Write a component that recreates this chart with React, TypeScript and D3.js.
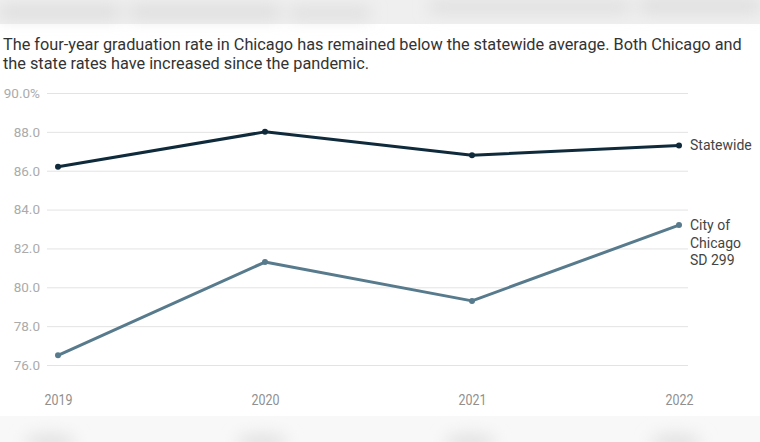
import React, { useEffect, useRef } from "react";
import * as d3 from "d3";

const years = ["2019", "2020", "2021", "2022"];
const statewide = [86.2, 88.0, 86.8, 87.3];
const chicago = [76.5, 81.3, 79.3, 83.2];
const yTicks = [76, 78, 80, 82, 84, 86, 88, 90];

const width = 760;
const height = 442;

export default function App() {
  const ref = useRef<SVGSVGElement>(null);

  useEffect(() => {
    const svg = d3.select(ref.current);
    svg.selectAll("*").remove();

    const defs = svg.append("defs");
    defs
      .append("filter")
      .attr("id", "blur")
      .attr("x", "-20%")
      .attr("y", "-100%")
      .attr("width", "140%")
      .attr("height", "300%")
      .append("feGaussianBlur")
      .attr("stdDeviation", 8);

    // blurred header/footer strips
    svg.append("rect").attr("x", 0).attr("y", 0).attr("width", width).attr("height", 24).attr("fill", "#efefef");
    const top = svg.append("g").attr("filter", "url(#blur)");
    [
      [0, 6, 120, 12], [130, 6, 150, 12], [290, 8, 80, 10], [430, 2, 200, 10], [640, 0, 120, 12],
    ].forEach(([x, y, w, h]) =>
      top.append("rect").attr("x", x).attr("y", y).attr("width", w).attr("height", h).attr("fill", "#dadada")
    );
    svg.append("rect").attr("x", 0).attr("y", 416).attr("width", width).attr("height", 26).attr("fill", "#f8f8f8");
    const bot = svg.append("g").attr("filter", "url(#blur)");
    [50, 262, 470, 676].forEach((x) =>
      bot.append("ellipse").attr("cx", x).attr("cy", 442).attr("rx", 26).attr("ry", 8).attr("fill", "#e0e0e0")
    );

    svg
      .append("text")
      .attr("x", 3)
      .attr("y", 50)
      .attr("font-family", "Roboto")
      .attr("font-size", 16.3)
      .attr("fill", "#333")
      .text("The four-year graduation rate in Chicago has remained below the statewide average. Both Chicago and");
    svg
      .append("text")
      .attr("x", 3)
      .attr("y", 69)
      .attr("font-family", "Roboto")
      .attr("font-size", 16.3)
      .attr("fill", "#333")
      .text("the state rates have increased since the pandemic.");

    const x = d3.scalePoint<string>().domain(years).range([58, 679]);
    const y = d3.scaleLinear().domain([76, 90]).range([365, 93]);

    const yAxis = svg
      .append("g")
      .attr("transform", "translate(688,0)")
      .call(
        d3
          .axisLeft(y)
          .tickValues(yTicks)
          .tickSize(641)
          .tickFormat((d) => (d === 90 ? "90.0%" : d3.format(".1f")(d as number)))
      );
    yAxis.select(".domain").remove();
    yAxis.selectAll(".tick line").attr("stroke", "#e3e3e3").attr("stroke-width", 1);
    yAxis
      .selectAll(".tick text")
      .attr("x", -648)
      .attr("text-anchor", "end")
      .attr("font-family", "Roboto")
      .attr("font-size", 13.5)
      .attr("fill", "#ababab");

    const xAxis = svg
      .append("g")
      .attr("transform", "translate(0,392)")
      .call(d3.axisBottom(x).tickSize(0));
    xAxis.select(".domain").remove();
    xAxis
      .selectAll(".tick text")
      .attr("font-family", "Roboto")
      .attr("font-size", 14)
      .attr("fill", "#8f8f8f")
      .attr("textLength", 28)
      .attr("lengthAdjust", "spacingAndGlyphs");

    const series = [
      { values: statewide, color: "#0f2a3b" },
      { values: chicago, color: "#577b8d" },
    ];
    const line = d3
      .line<number>()
      .x((_, i) => x(years[i]) as number)
      .y((d) => y(d));

    series.forEach((s) => {
      svg
        .append("path")
        .datum(s.values)
        .attr("d", line)
        .attr("fill", "none")
        .attr("stroke", s.color)
        .attr("stroke-width", 3)
        .attr("stroke-linejoin", "round");
      svg
        .selectAll(null)
        .data(s.values)
        .enter()
        .append("circle")
        .attr("cx", (_, i) => x(years[i]) as number)
        .attr("cy", (d) => y(d))
        .attr("r", 3)
        .attr("fill", s.color);
    });

    const lab = (lines: string[], v: number) => {
      const t = svg
        .append("text")
        .attr("x", 690)
        .attr("y", y(v) + 5)
        .attr("font-family", "Roboto")
        .attr("font-size", 14)
        .attr("fill", "#444");
      lines.forEach((l, i) => t.append("tspan").attr("x", 690).attr("dy", i === 0 ? 0 : 17.5).text(l));
    };
    lab(["Statewide"], statewide[3]);
    lab(["City of", "Chicago", "SD 299"], chicago[3]);
  }, []);

  return (
    <div style={{ position: "absolute", left: 0, top: 0 }}>
      <svg ref={ref} width={width} height={height} style={{ display: "block", background: "#fff" }} />
    </div>
  );
}
